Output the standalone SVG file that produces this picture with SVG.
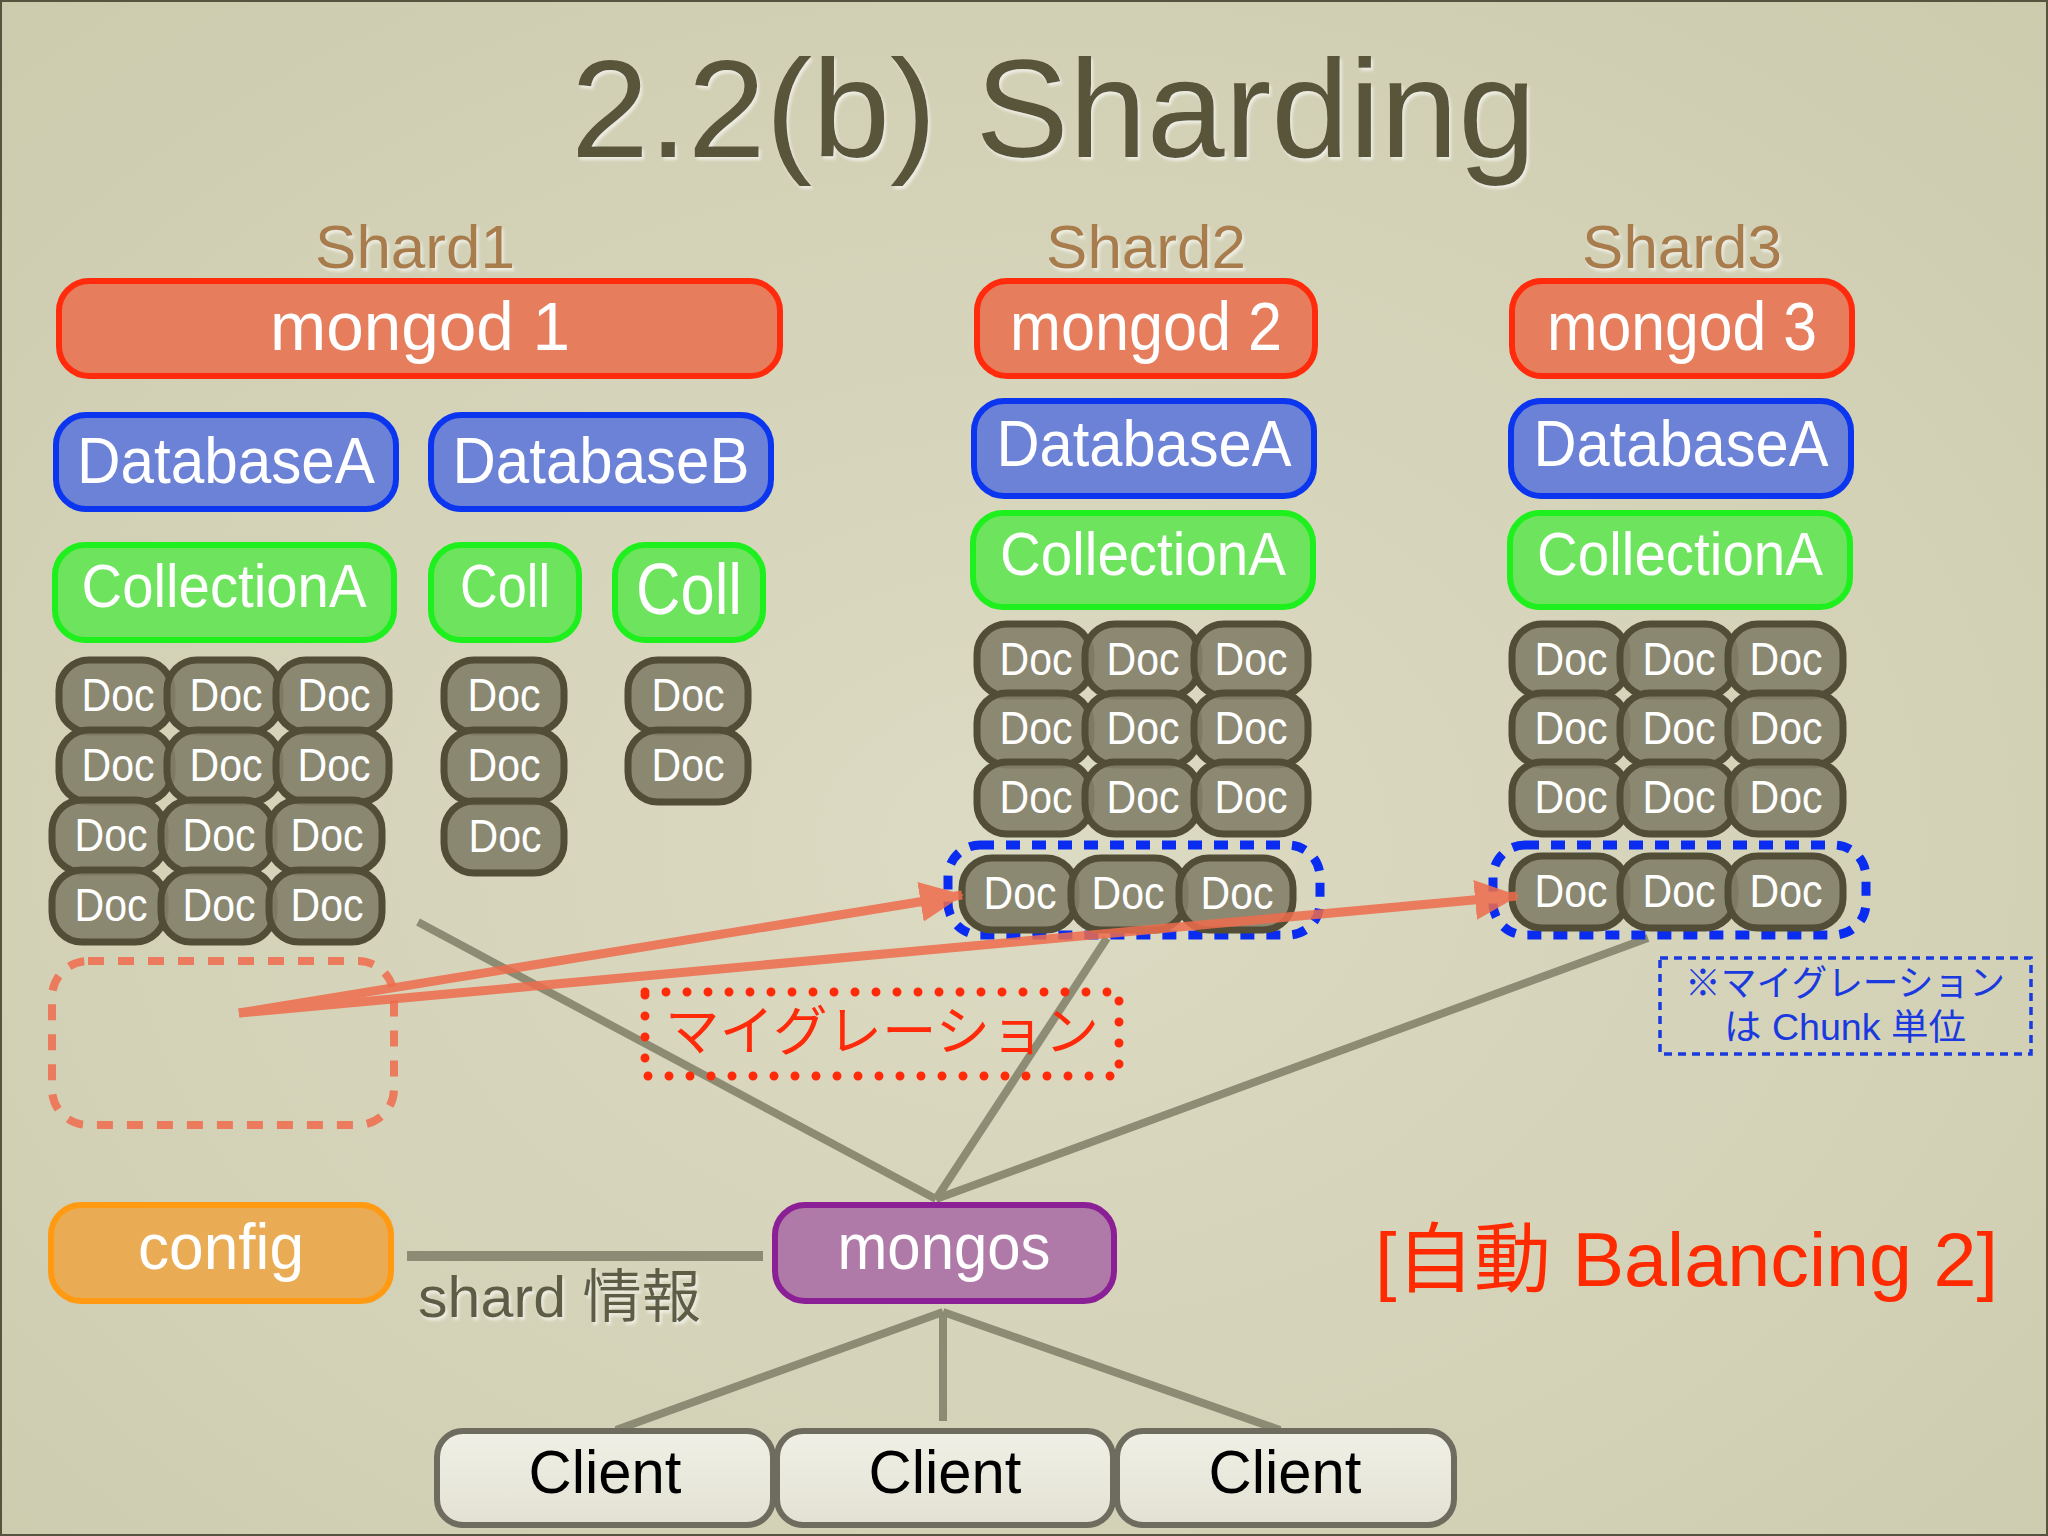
<svg xmlns="http://www.w3.org/2000/svg" width="2048" height="1536" viewBox="0 0 2048 1536">
<defs>
<radialGradient id="bg" cx="50%" cy="55%" r="75%">
<stop offset="0" stop-color="#dcdbc3"/>
<stop offset="1" stop-color="#cdcbae"/>
</radialGradient>
<linearGradient id="clientFill" x1="0" y1="0" x2="0" y2="1">
<stop offset="0" stop-color="#f1f0e6"/>
<stop offset="1" stop-color="#e2e1d3"/>
</linearGradient>
<filter id="shadow" x="-5%" y="-5%" width="110%" height="120%">
<feDropShadow dx="2" dy="3" stdDeviation="1.5" flood-color="#ffffff" flood-opacity="0.6"/>
</filter>
<marker id="arrow" viewBox="0 0 44 40" refX="42" refY="20" markerWidth="44" markerHeight="40" markerUnits="userSpaceOnUse" orient="auto">
<path d="M0,0 L44,20 L0,40 z" fill="#ee6c4c"/>
</marker>
<style>
text{font-family:"Liberation Sans","Noto Sans CJK JP",sans-serif;}
.title{font-size:140px;fill:#58553a;}
.shard{font-size:62px;fill:#a87b4c;text-anchor:middle;}
.lbl{fill:#ffffff;text-anchor:middle;}
.mongod rect{fill:#e67e5e;stroke:#ff2b0c;stroke-width:6;}
.db rect{fill:#6b82d6;stroke:#0b35ee;stroke-width:6;}
.coll rect{fill:#6ee35e;stroke:#1ef01e;stroke-width:6;}
.doc rect{fill:#838069;fill-opacity:0.9;stroke:#514d36;stroke-width:7;}
.doc text{font-size:46px;fill:#ffffff;text-anchor:middle;}
.config rect{fill:#eaab55;stroke:#ff9a12;stroke-width:6;}
.mongos rect{fill:#b07aa8;stroke:#8b1f95;stroke-width:6;}
.client rect{fill:url(#clientFill);stroke:#6d6c5e;stroke-width:6;}
.client text{font-size:62px;fill:#000000;text-anchor:middle;}
.conn line{stroke:#85846c;stroke-width:8;stroke-linecap:butt;}
.chunk{fill:none;stroke:#0a2cf0;stroke-width:9;stroke-dasharray:14 12;}
</style>
</defs>

<rect x="0" y="0" width="2048" height="1536" fill="url(#bg)"/>
<rect x="1" y="1" width="2046" height="1534" fill="none" stroke="#55553f" stroke-width="2"/>

<text class="title" x="571" y="157" filter="url(#shadow)">2.2(b) Sharding</text>

<g id="shard-labels" filter="url(#shadow)">
<text class="shard" x="415" y="268">Shard1</text>
<text class="shard" x="1146" y="268">Shard2</text>
<text class="shard" x="1682" y="268">Shard3</text>
</g>

<!-- connectors -->
<g id="connectors" class="conn" opacity="0.9">
<line x1="418" y1="922" x2="936" y2="1199"/>
<line x1="1107" y1="938" x2="936" y2="1199"/>
<line x1="1648" y1="938" x2="936" y2="1199"/>
<line x1="407" y1="1256" x2="763" y2="1256" style="stroke-width:10"/>
<line x1="943" y1="1312" x2="616" y2="1430"/>
<line x1="943" y1="1312" x2="943" y2="1421"/>
<line x1="943" y1="1312" x2="1280" y2="1430"/>
</g>

<!-- Shard1 -->
<g id="mongod1" class="mongod"><rect x="59" y="281" width="721" height="95" rx="30"/><text class="lbl" x="420" y="350" font-size="68" textLength="300" lengthAdjust="spacingAndGlyphs">mongod 1</text></g>
<g id="s1-dbA" class="db"><rect x="56" y="415" width="340" height="94" rx="30"/><text class="lbl" x="226" y="483" font-size="64" textLength="298" lengthAdjust="spacingAndGlyphs">DatabaseA</text></g>
<g id="s1-dbB" class="db"><rect x="431" y="415" width="340" height="94" rx="30"/><text class="lbl" x="601" y="483" font-size="64" textLength="297" lengthAdjust="spacingAndGlyphs">DatabaseB</text></g>
<g id="s1-collA" class="coll"><rect x="55" y="545" width="339" height="95" rx="30"/><text class="lbl" x="224" y="607" font-size="62" textLength="285" lengthAdjust="spacingAndGlyphs">CollectionA</text></g>
<g id="s1-coll1" class="coll"><rect x="431" y="545" width="148" height="95" rx="30"/><text class="lbl" x="505" y="607" font-size="62" textLength="90" lengthAdjust="spacingAndGlyphs">Coll</text></g>
<g id="s1-coll2" class="coll"><rect x="615" y="545" width="148" height="95" rx="30"/><text class="lbl" x="689" y="614" font-size="72" textLength="106" lengthAdjust="spacingAndGlyphs">Coll</text></g>

<g id="s1-docs">
<g class="doc"><rect x="59" y="660" width="113" height="72" rx="30"/><text x="118" y="711" textLength="73" lengthAdjust="spacingAndGlyphs">Doc</text></g>
<g class="doc"><rect x="167" y="660" width="113" height="72" rx="30"/><text x="226" y="711" textLength="73" lengthAdjust="spacingAndGlyphs">Doc</text></g>
<g class="doc"><rect x="276" y="660" width="113" height="72" rx="30"/><text x="334" y="711" textLength="73" lengthAdjust="spacingAndGlyphs">Doc</text></g>
<g class="doc"><rect x="59" y="730" width="113" height="72" rx="30"/><text x="118" y="781" textLength="73" lengthAdjust="spacingAndGlyphs">Doc</text></g>
<g class="doc"><rect x="167" y="730" width="113" height="72" rx="30"/><text x="226" y="781" textLength="73" lengthAdjust="spacingAndGlyphs">Doc</text></g>
<g class="doc"><rect x="276" y="730" width="113" height="72" rx="30"/><text x="334" y="781" textLength="73" lengthAdjust="spacingAndGlyphs">Doc</text></g>
<g class="doc"><rect x="52" y="800" width="113" height="72" rx="30"/><text x="111" y="851" textLength="73" lengthAdjust="spacingAndGlyphs">Doc</text></g>
<g class="doc"><rect x="161" y="800" width="113" height="72" rx="30"/><text x="219" y="851" textLength="73" lengthAdjust="spacingAndGlyphs">Doc</text></g>
<g class="doc"><rect x="269" y="800" width="113" height="72" rx="30"/><text x="327" y="851" textLength="73" lengthAdjust="spacingAndGlyphs">Doc</text></g>
<g class="doc"><rect x="52" y="870" width="113" height="72" rx="30"/><text x="111" y="921" textLength="73" lengthAdjust="spacingAndGlyphs">Doc</text></g>
<g class="doc"><rect x="161" y="870" width="113" height="72" rx="30"/><text x="219" y="921" textLength="73" lengthAdjust="spacingAndGlyphs">Doc</text></g>
<g class="doc"><rect x="269" y="870" width="113" height="72" rx="30"/><text x="327" y="921" textLength="73" lengthAdjust="spacingAndGlyphs">Doc</text></g>
<g class="doc"><rect x="444" y="660" width="120" height="72" rx="30"/><text x="504" y="711" textLength="73" lengthAdjust="spacingAndGlyphs">Doc</text></g>
<g class="doc"><rect x="444" y="730" width="120" height="72" rx="30"/><text x="504" y="781" textLength="73" lengthAdjust="spacingAndGlyphs">Doc</text></g>
<g class="doc"><rect x="444" y="801" width="120" height="72" rx="30"/><text x="505" y="852" textLength="73" lengthAdjust="spacingAndGlyphs">Doc</text></g>
<g class="doc"><rect x="628" y="660" width="120" height="72" rx="30"/><text x="688" y="711" textLength="73" lengthAdjust="spacingAndGlyphs">Doc</text></g>
<g class="doc"><rect x="628" y="730" width="120" height="72" rx="30"/><text x="688" y="781" textLength="73" lengthAdjust="spacingAndGlyphs">Doc</text></g>
</g>

<g id="old-chunk"><rect x="52" y="961" width="342" height="164" rx="36" fill="none" stroke="#ec7a5c" stroke-width="8" stroke-dasharray="16 14"/></g>

<!-- Shard2 -->
<g id="mongod2" class="mongod"><rect x="977" y="281" width="338" height="95" rx="30"/><text class="lbl" x="1146" y="350" font-size="68" textLength="272" lengthAdjust="spacingAndGlyphs">mongod 2</text></g>
<g id="s2-dbA" class="db"><rect x="974" y="401" width="340" height="95" rx="30"/><text class="lbl" x="1144" y="466" font-size="64" textLength="295" lengthAdjust="spacingAndGlyphs">DatabaseA</text></g>
<g id="s2-collA" class="coll"><rect x="973" y="513" width="340" height="94" rx="30"/><text class="lbl" x="1143" y="575" font-size="62" textLength="286" lengthAdjust="spacingAndGlyphs">CollectionA</text></g>
<g id="s2-docs">
<g class="doc"><rect x="977" y="624" width="114" height="72" rx="30"/><text x="1036" y="675" textLength="73" lengthAdjust="spacingAndGlyphs">Doc</text></g>
<g class="doc"><rect x="1085" y="624" width="114" height="72" rx="30"/><text x="1143" y="675" textLength="73" lengthAdjust="spacingAndGlyphs">Doc</text></g>
<g class="doc"><rect x="1194" y="624" width="114" height="72" rx="30"/><text x="1251" y="675" textLength="73" lengthAdjust="spacingAndGlyphs">Doc</text></g>
<g class="doc"><rect x="977" y="693" width="114" height="72" rx="30"/><text x="1036" y="744" textLength="73" lengthAdjust="spacingAndGlyphs">Doc</text></g>
<g class="doc"><rect x="1085" y="693" width="114" height="72" rx="30"/><text x="1143" y="744" textLength="73" lengthAdjust="spacingAndGlyphs">Doc</text></g>
<g class="doc"><rect x="1194" y="693" width="114" height="72" rx="30"/><text x="1251" y="744" textLength="73" lengthAdjust="spacingAndGlyphs">Doc</text></g>
<g class="doc"><rect x="977" y="762" width="114" height="72" rx="30"/><text x="1036" y="813" textLength="73" lengthAdjust="spacingAndGlyphs">Doc</text></g>
<g class="doc"><rect x="1085" y="762" width="114" height="72" rx="30"/><text x="1143" y="813" textLength="73" lengthAdjust="spacingAndGlyphs">Doc</text></g>
<g class="doc"><rect x="1194" y="762" width="114" height="72" rx="30"/><text x="1251" y="813" textLength="73" lengthAdjust="spacingAndGlyphs">Doc</text></g>
</g>
<g id="s2-chunk">
<rect class="chunk" x="948" y="845" width="372" height="90" rx="32"/>
<g class="doc"><rect x="962" y="858" width="114" height="72" rx="30"/><text x="1020" y="909" textLength="73" lengthAdjust="spacingAndGlyphs">Doc</text></g>
<g class="doc"><rect x="1071" y="858" width="114" height="72" rx="30"/><text x="1128" y="909" textLength="73" lengthAdjust="spacingAndGlyphs">Doc</text></g>
<g class="doc"><rect x="1179" y="858" width="114" height="72" rx="30"/><text x="1237" y="909" textLength="73" lengthAdjust="spacingAndGlyphs">Doc</text></g>
</g>

<!-- Shard3 -->
<g id="mongod3" class="mongod"><rect x="1512" y="281" width="340" height="95" rx="30"/><text class="lbl" x="1682" y="350" font-size="68" textLength="270" lengthAdjust="spacingAndGlyphs">mongod 3</text></g>
<g id="s3-dbA" class="db"><rect x="1511" y="401" width="340" height="95" rx="30"/><text class="lbl" x="1681" y="466" font-size="64" textLength="295" lengthAdjust="spacingAndGlyphs">DatabaseA</text></g>
<g id="s3-collA" class="coll"><rect x="1510" y="513" width="340" height="94" rx="30"/><text class="lbl" x="1680" y="575" font-size="62" textLength="286" lengthAdjust="spacingAndGlyphs">CollectionA</text></g>
<g id="s3-docs">
<g class="doc"><rect x="1512" y="624" width="115" height="72" rx="30"/><text x="1571" y="675" textLength="73" lengthAdjust="spacingAndGlyphs">Doc</text></g>
<g class="doc"><rect x="1620" y="624" width="115" height="72" rx="30"/><text x="1679" y="675" textLength="73" lengthAdjust="spacingAndGlyphs">Doc</text></g>
<g class="doc"><rect x="1728" y="624" width="115" height="72" rx="30"/><text x="1786" y="675" textLength="73" lengthAdjust="spacingAndGlyphs">Doc</text></g>
<g class="doc"><rect x="1512" y="693" width="115" height="72" rx="30"/><text x="1571" y="744" textLength="73" lengthAdjust="spacingAndGlyphs">Doc</text></g>
<g class="doc"><rect x="1620" y="693" width="115" height="72" rx="30"/><text x="1679" y="744" textLength="73" lengthAdjust="spacingAndGlyphs">Doc</text></g>
<g class="doc"><rect x="1728" y="693" width="115" height="72" rx="30"/><text x="1786" y="744" textLength="73" lengthAdjust="spacingAndGlyphs">Doc</text></g>
<g class="doc"><rect x="1512" y="762" width="115" height="72" rx="30"/><text x="1571" y="813" textLength="73" lengthAdjust="spacingAndGlyphs">Doc</text></g>
<g class="doc"><rect x="1620" y="762" width="115" height="72" rx="30"/><text x="1679" y="813" textLength="73" lengthAdjust="spacingAndGlyphs">Doc</text></g>
<g class="doc"><rect x="1728" y="762" width="115" height="72" rx="30"/><text x="1786" y="813" textLength="73" lengthAdjust="spacingAndGlyphs">Doc</text></g>
</g>
<g id="s3-chunk">
<rect class="chunk" x="1493" y="845" width="373" height="90" rx="32"/>
<g class="doc"><rect x="1512" y="856" width="115" height="72" rx="30"/><text x="1571" y="907" textLength="73" lengthAdjust="spacingAndGlyphs">Doc</text></g>
<g class="doc"><rect x="1620" y="856" width="115" height="72" rx="30"/><text x="1679" y="907" textLength="73" lengthAdjust="spacingAndGlyphs">Doc</text></g>
<g class="doc"><rect x="1728" y="856" width="115" height="72" rx="30"/><text x="1786" y="907" textLength="73" lengthAdjust="spacingAndGlyphs">Doc</text></g>
</g>

<!-- migration arrows -->
<g id="migration-arrows" opacity="0.85">
<line x1="239" y1="1013" x2="962" y2="895" stroke="#ee6c4c" stroke-width="9" marker-end="url(#arrow)"/>
<line x1="239" y1="1013" x2="1517" y2="896" stroke="#ee6c4c" stroke-width="9" marker-end="url(#arrow)"/>
</g>

<g id="migration-label">
<rect x="645" y="992" width="474" height="84" fill="none" stroke="#ff2a0a" stroke-width="9" stroke-dasharray="0 21" stroke-linecap="round"/>
<text x="882" y="1051" font-size="54" fill="#ff2a0a" text-anchor="middle" textLength="434" lengthAdjust="spacingAndGlyphs">マイグレーション</text>
</g>

<g id="note">
<rect x="1660" y="958" width="371" height="96" fill="none" stroke="#1a3ae0" stroke-width="3.5" stroke-dasharray="8 6"/>
<text x="1845" y="996" font-size="36" fill="#1a3ae0" text-anchor="middle" textLength="320" lengthAdjust="spacingAndGlyphs">※マイグレーション</text>
<text x="1845" y="1040" font-size="36" fill="#1a3ae0" text-anchor="middle" textLength="242" lengthAdjust="spacingAndGlyphs">は Chunk 単位</text>
</g>

<!-- bottom -->
<g id="config" class="config"><rect x="51" y="1205" width="340" height="96" rx="30"/><text class="lbl" x="221" y="1269" font-size="64" textLength="166" lengthAdjust="spacingAndGlyphs">config</text></g>
<g id="mongos" class="mongos"><rect x="775" y="1205" width="339" height="96" rx="30"/><text class="lbl" x="944" y="1269" font-size="64" textLength="213" lengthAdjust="spacingAndGlyphs">mongos</text></g>
<text id="shard-info" x="418" y="1317" font-size="58" fill="#5d5b45" textLength="283" lengthAdjust="spacingAndGlyphs" filter="url(#shadow)">shard 情報</text>

<text id="balancing" x="1375" y="1286" font-size="76" fill="#ff2a00" textLength="623" lengthAdjust="spacingAndGlyphs">[自動 Balancing 2]</text>

<g id="client1" class="client"><rect x="437" y="1431" width="336" height="94" rx="26"/><text x="605" y="1493" textLength="153" lengthAdjust="spacingAndGlyphs">Client</text></g>
<g id="client2" class="client"><rect x="777" y="1431" width="336" height="94" rx="26"/><text x="945" y="1493" textLength="153" lengthAdjust="spacingAndGlyphs">Client</text></g>
<g id="client3" class="client"><rect x="1117" y="1431" width="337" height="94" rx="26"/><text x="1285" y="1493" textLength="153" lengthAdjust="spacingAndGlyphs">Client</text></g>
</svg>
